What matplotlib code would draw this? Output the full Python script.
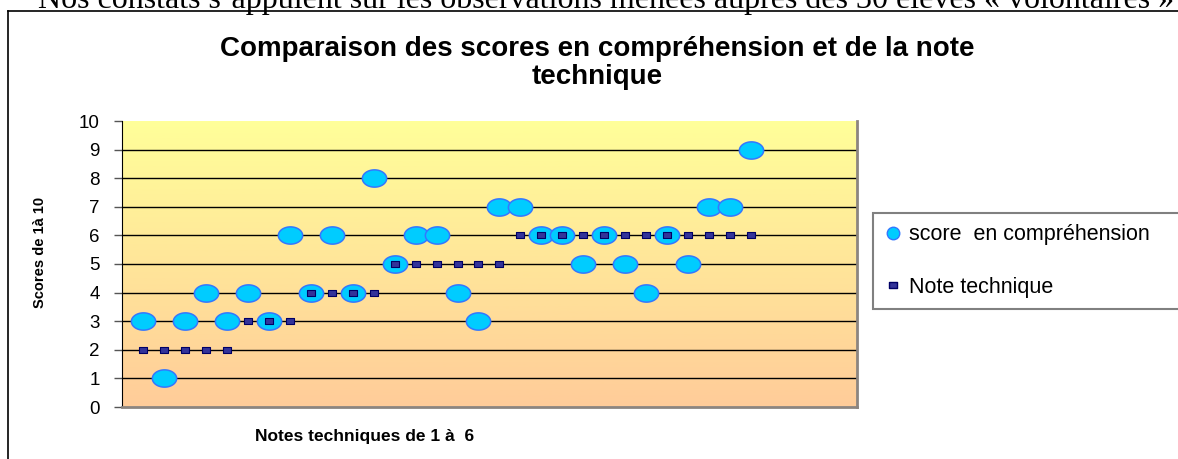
import numpy as np
import matplotlib
matplotlib.use("Agg")
import matplotlib.pyplot as plt
from matplotlib.path import Path
from matplotlib.lines import Line2D
from matplotlib.colors import LinearSegmentedColormap

plt.rcParams['font.family'] = ['Liberation Sans', 'DejaVu Sans']

## data ##
eleves = np.arange(1, 31)
score_comprehension = [3, 1, 3, 4, 3, 4, 3, 6, 4, 6, 4, 8, 5, 6, 6,
                       4, 3, 7, 7, 6, 6, 5, 6, 5, 4, 6, 5, 7, 7, 9]
note_technique = [2, 2, 2, 2, 2, 3, 3, 3, 4, 4, 4, 4, 5, 5, 5,
                  5, 5, 5, 6, 6, 6, 6, 6, 6, 6, 6, 6, 6, 6, 6]
y_ticks = list(range(0, 11))

titre = "Comparaison des scores en compréhension et de la note\ntechnique"
label_x = "Notes techniques de 1 à  6"
label_y = "Scores de 1à 10"
label_score = "score  en compréhension"
label_note = "Note technique"
texte_doc = "Nos constats s\u2019appuient sur les observations menées auprès des 30 élèves « volontaires »"

W, H = 1178, 459
fig = plt.figure(figsize=(W / 100, H / 100), dpi=100)

# ellipse / flat rectangle markers
t = np.linspace(0, 2 * np.pi, 60)
ellipse = Path(np.column_stack([np.cos(t), 0.71 * np.sin(t)]), closed=True)
rect = Path([(-1, -0.75), (1, -0.75), (1, 0.75), (-1, 0.75), (-1, -0.75)], closed=True)

l, r, top, bot = 122, 857, 121, 407
ax = fig.add_axes([l / W, 1 - bot / H, (r - l) / W, (bot - top) / H])
xmin, xmax = 0, 35.05

# gradient background
cmap = LinearSegmentedColormap.from_list('fond', ['#FFCC99', '#FFFF99'])
grad = np.linspace(0, 1, 256).reshape(-1, 1)
ax.imshow(grad, extent=[xmin, xmax, 0, 10], origin='lower', aspect='auto',
          cmap=cmap, zorder=0)

for y in range(1, 10):
    ax.axhline(y, color='black', lw=1.0, zorder=1)

ax.plot(eleves, score_comprehension, linestyle='none', marker=ellipse,
        markersize=17.5, markerfacecolor='#00CCFF', markeredgecolor='#3377FF',
        markeredgewidth=1.1, zorder=3)
ax.plot(eleves, note_technique, linestyle='none', marker=rect,
        markersize=6, markerfacecolor='#333399', markeredgecolor='#000066',
        markeredgewidth=0.8, zorder=4)

ax.set_xlim(xmin, xmax)
ax.set_ylim(0, 10)
ax.set_xticks([])
ax.set_yticks(y_ticks)
ax.tick_params(axis='y', length=6, width=1, color='#555555', pad=10, labelsize=13.5)
ax.spines['top'].set_visible(False)
ax.spines['left'].set_color('black')
ax.spines['right'].set_color('#8c8580')
ax.spines['right'].set_linewidth(2)
ax.spines['bottom'].set_color('#8c8580')
ax.spines['bottom'].set_linewidth(2)

# titles and labels
fig.text(597 / W, 1 - 63 / H, titre, ha='center', va='center', fontsize=20,
         fontweight='bold', linespacing=1.15)
fig.text(365 / W, 1 - 437 / H, label_x, ha='center', va='center', fontsize=12.5,
         fontweight='bold')
fig.text(40 / W, 1 - 252 / H, label_y, ha='center', va='center', fontsize=10.5,
         fontweight='bold', rotation=90)

# legend (box runs past the right edge, as in the source)
handles = [
    Line2D([], [], linestyle='none', marker='o', markersize=9,
           markerfacecolor='#00CCFF', markeredgecolor='#3377FF', label=label_score),
    Line2D([], [], linestyle='none', marker=rect, markersize=6,
           markerfacecolor='#333399', markeredgecolor='#000066', label=label_note),
]
leg = fig.legend(handles=handles, loc='upper left', mode='expand',
                 bbox_to_anchor=(873 / W, 1 - 213 / H, 320 / W, 0.001), fontsize=15.5,
                 frameon=True, fancybox=False, edgecolor='#808080',
                 framealpha=1, borderpad=0.55, labelspacing=1.45,
                 handlelength=0.75, handletextpad=0.35, borderaxespad=0)
leg.get_frame().set_linewidth(1.5)

# document text and chart frame
fig.text(38 / W, 1 - 8 / H, texte_doc, ha='left', va='baseline', fontsize=23,
         family='Liberation Serif')
fig.add_artist(Line2D([8 / W, 8 / W], [0, 1 - 11 / H], color='black', lw=1.2))
fig.add_artist(Line2D([8 / W, 1], [1 - 11 / H, 1 - 11 / H], color='black', lw=1.2))

fig.savefig("out.png", dpi=100)
